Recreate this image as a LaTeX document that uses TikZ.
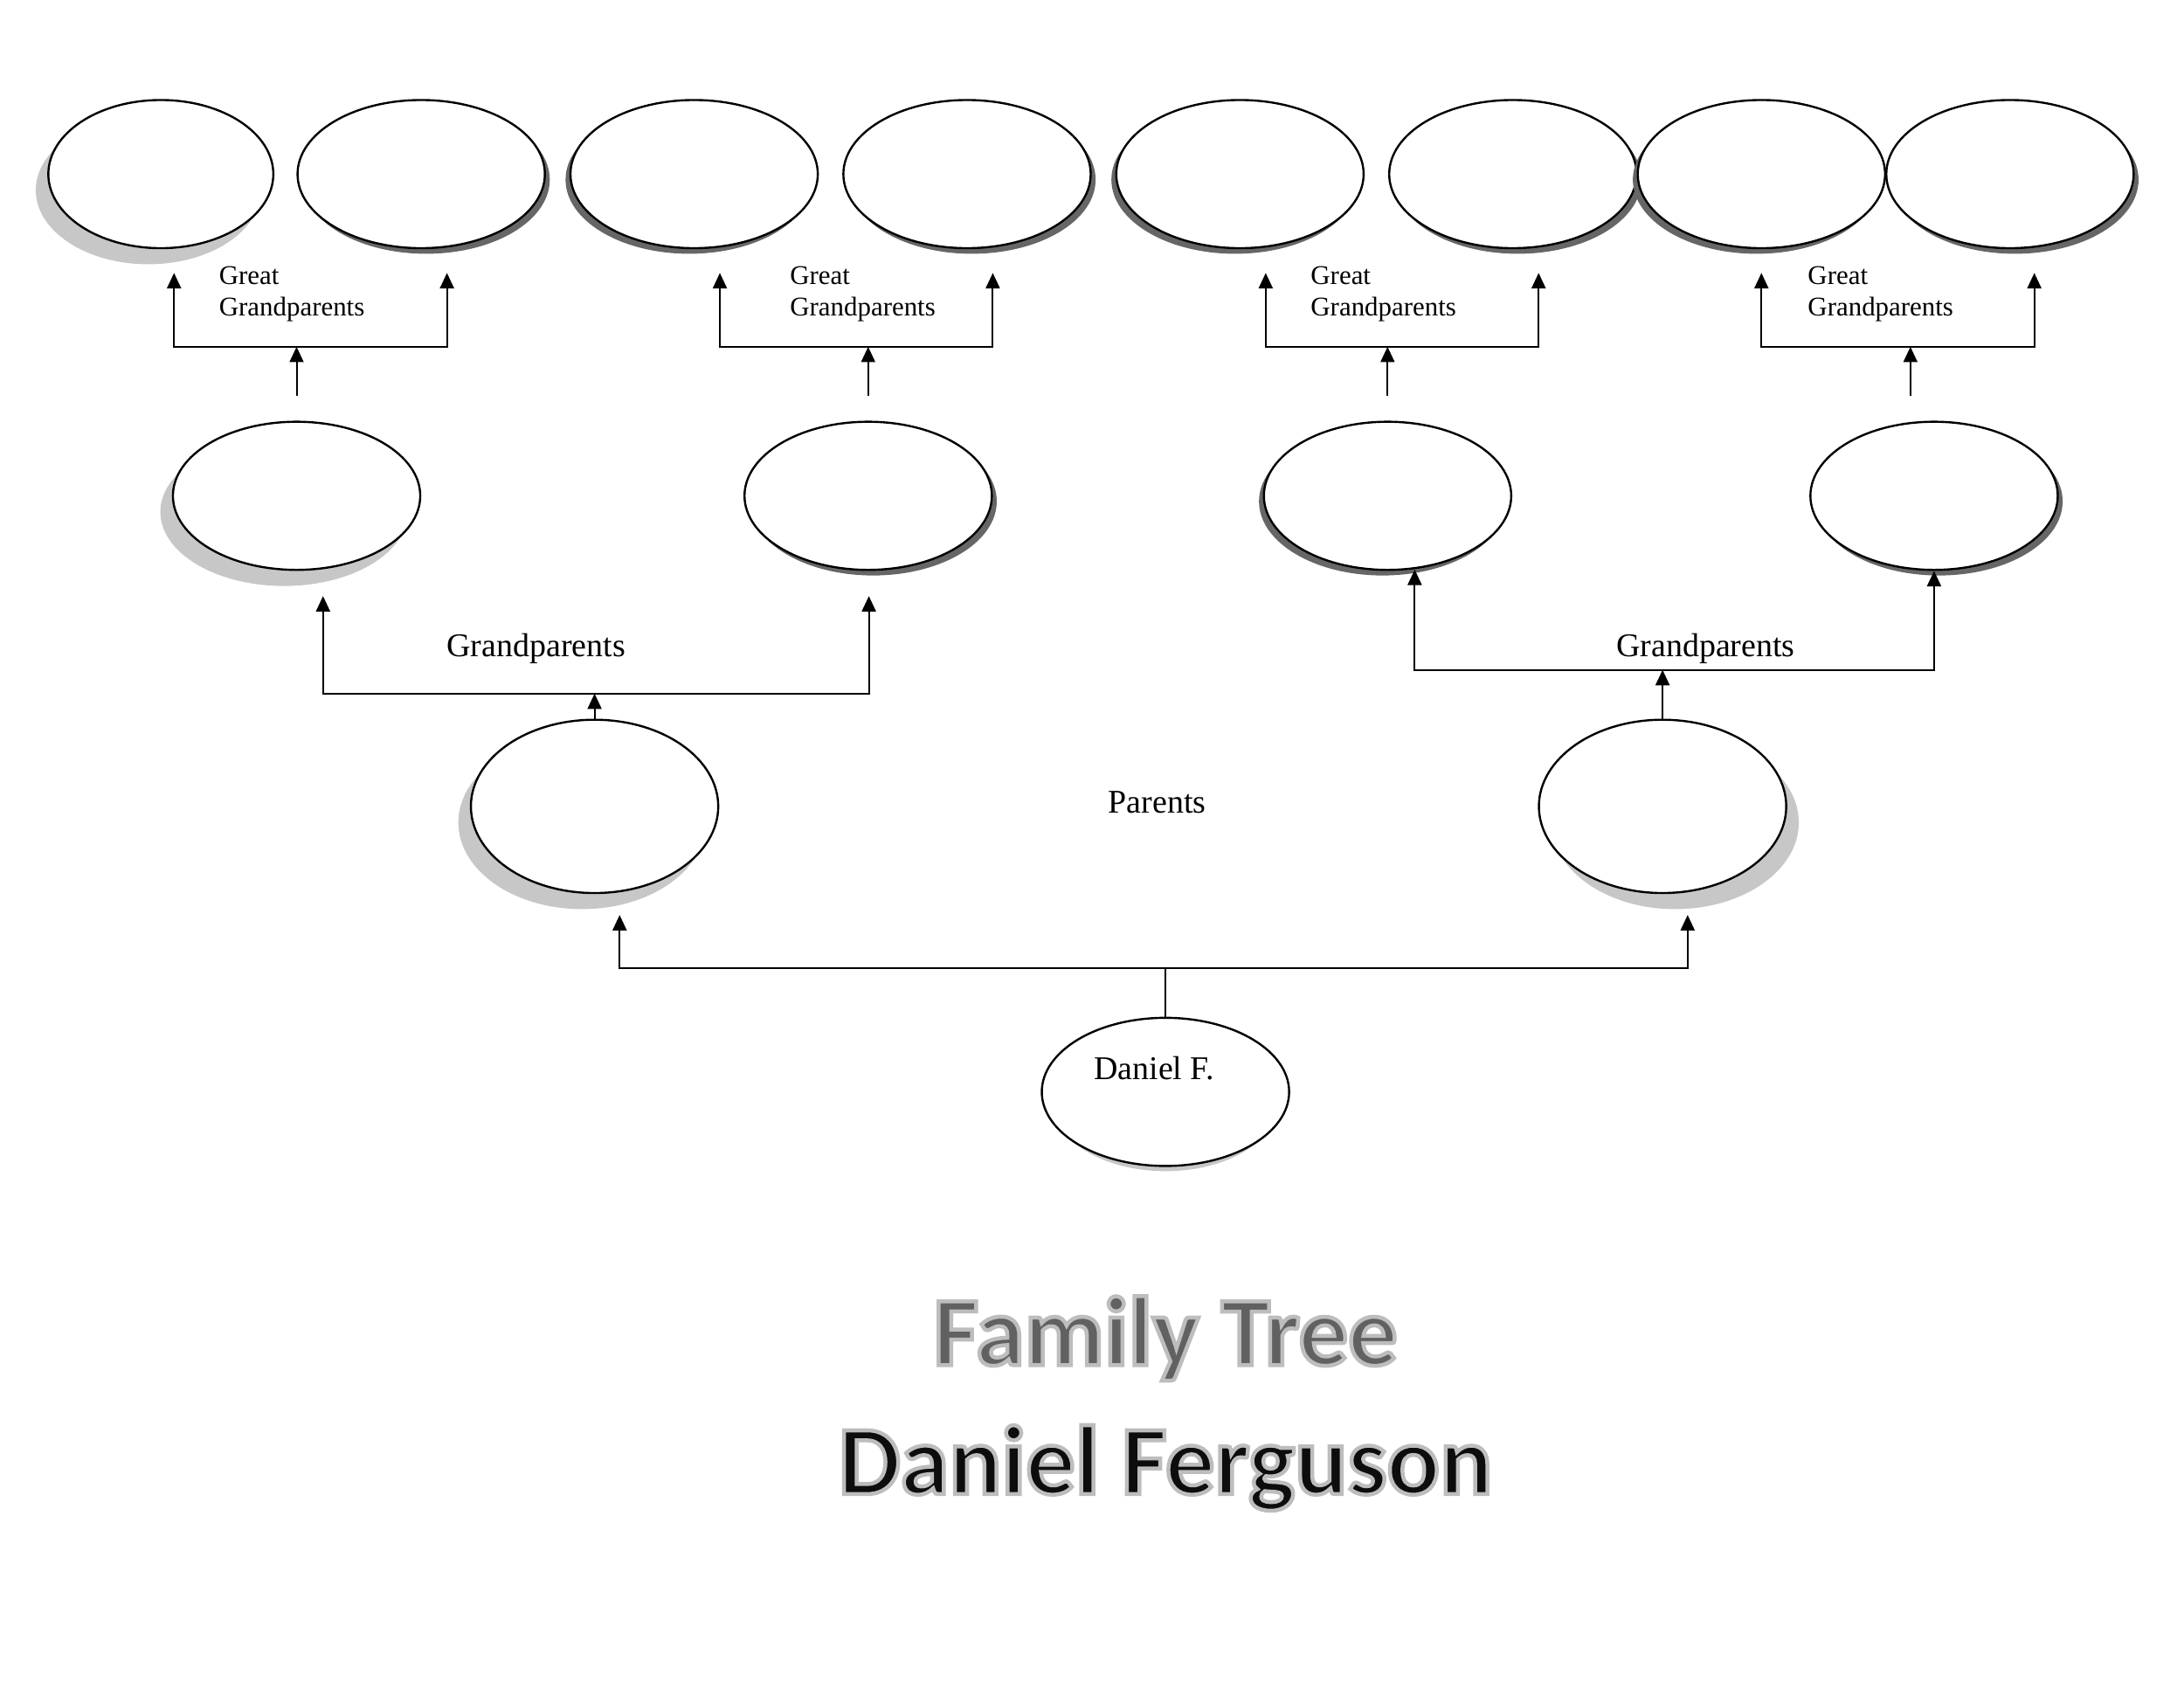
\documentclass[tikz,border=0pt]{standalone}
\usepackage{fontspec}
\setmainfont{Liberation Serif}
\newfontfamily\titlefont{Carlito}[UprightFont=* Bold, FakeBold=4]
\usetikzlibrary{shapes.geometric,arrows.meta,shadows}

\newcommand{\outlinetitle}[2]{\textcolor{#1}{\special{pdf:literal direct 0.74 G}#2}}

\begin{document}
\begin{tikzpicture}[x=0.1993mm, y=-0.1993mm,
  person/.style={ellipse, draw, fill=white, line width=0.3mm, inner sep=0pt, minimum width=35.4mm, minimum height=21.2mm},
  lightL/.style={general shadow={fill=black!22, shadow xshift=-1.8mm, shadow yshift=-2.3mm}},
  lightR/.style={general shadow={fill=black!22, shadow xshift=1.8mm, shadow yshift=-2.3mm}},
  lightB/.style={general shadow={fill=black!22, shadow scale=0.9, shadow yshift=-2mm}},
  darkL/.style={general shadow={fill=black!60, shadow xshift=-0.7mm, shadow yshift=-0.8mm}},
  darkR/.style={general shadow={fill=black!60, shadow xshift=0.7mm, shadow yshift=-0.8mm}},
  link/.style={line width=0.25mm},
  arr/.style={link, -{Triangle[length=2.2mm, width=2mm]}},
  arrs/.style={link, {Triangle[length=2.2mm, width=2mm]}-{Triangle[length=2.2mm, width=2mm]}},
  gentext/.style={font=\fontsize{13.5}{16}\selectfont, inner sep=0pt},
  ggtext/.style={font=\fontsize{11}{13}\selectfont, align=left, anchor=west, inner sep=0pt}]
\useasboundingbox (0,0) rectangle (1568.5,1212.2);

% great grandparents
\node[person, lightL, minimum width=32.2mm] (gg1) at (115.5,125) {};
\node[person, darkR] (gg2) at (302.5,125) {};
\node[person, darkL] (gg3) at (498.5,125) {};
\node[person, darkR] (gg4) at (694.5,125) {};
\node[person, darkL] (gg5) at (890.5,125) {};
\node[person, darkR] (gg6) at (1086.5,125) {};
\node[person, darkL] (gg7) at (1265,125) {};
\node[person, darkR] (gg8) at (1443.5,125) {};

% grandparents
\node[person, lightL] (g1) at (213,356) {};
\node[person, darkR] (g2) at (623.5,356) {};
\node[person, darkL] (g3) at (996.5,356) {};
\node[person, darkR] (g4) at (1389,356) {};

% parents and me
\node[person, lightL, minimum height=24.8mm] (p1) at (427,579) {};
\node[person, lightR, minimum height=24.8mm] (p2) at (1194,579) {};
\node[person, lightB] (me) at (837,784) {};

\coordinate (a1) at (125,196); \coordinate (b1) at (321,196); \coordinate (j1) at (213,249);
\coordinate (a2) at (517,196); \coordinate (b2) at (713,196); \coordinate (j2) at (623.5,249);
\coordinate (a3) at (909,196); \coordinate (b3) at (1105,196); \coordinate (j3) at (996.5,249);
\coordinate (a4) at (1265,196); \coordinate (b4) at (1461,196); \coordinate (j4) at (1372,249);
\coordinate (ga) at (232,428); \coordinate (gb) at (624,428); \coordinate (k1) at (427,498);
\coordinate (gc) at (1016,409); \coordinate (k2) at (1194,481);
\coordinate (pa) at (445,657); \coordinate (pb) at (1212,657); \coordinate (k0) at (837,695);

\draw[arrs] (a1) |- (j1) -| (b1);
\draw[arrs] (a2) |- (j2) -| (b2);
\draw[arrs] (a3) |- (j3) -| (b3);
\draw[arrs] (a4) |- (j4) -| (b4);
\draw[arr, shorten <=3.6mm] (g1) -- (j1);
\draw[arr, shorten <=3.6mm] (g2) -- (j2);
\draw[arr, shorten <=3.6mm] (g3) -- (j3);
\draw[arr, shorten <=3.6mm] (g4.north -| j4) -- (j4);

\draw[arrs] (ga) |- (k1) -| (gb);
\draw[arr] (p1) -- (k1);
\draw[arrs] (gc) |- (k2) -| (g4.south);
\draw[arr] (p2) -- (k2);

\draw[arrs] (pa) |- (k0) -| (pb);
\draw[link] (me) -- (k0);

% labels
\node[ggtext] (gt1) at (157,211) {Great\\Grandparents};
\node[ggtext] (gt2) at (567,211) {Great\\Grandparents};
\node[ggtext] (gt3) at (941,211) {Great\\Grandparents};
\node[ggtext] (gt4) at (1298,211) {Great\\Grandparents};
\node[gentext] (gpl) at (385,466) {Grandparents};
\node[gentext] (gpr) at (1225,466) {Grandparents};
\node[gentext] (par) at (831,576) {Parents};
\node[gentext] (mename) at (829,767) {Daniel F.};

\node[font=\titlefont\fontsize{40}{48}\selectfont, inner sep=0pt] (title) at (837,961) {\outlinetitle{black!62}{Family Tree}};
\node[font=\titlefont\fontsize{40}{48}\selectfont, inner sep=0pt] (name) at (837,1054) {\outlinetitle{black!95}{Daniel Ferguson}};
\end{tikzpicture}
\end{document}
